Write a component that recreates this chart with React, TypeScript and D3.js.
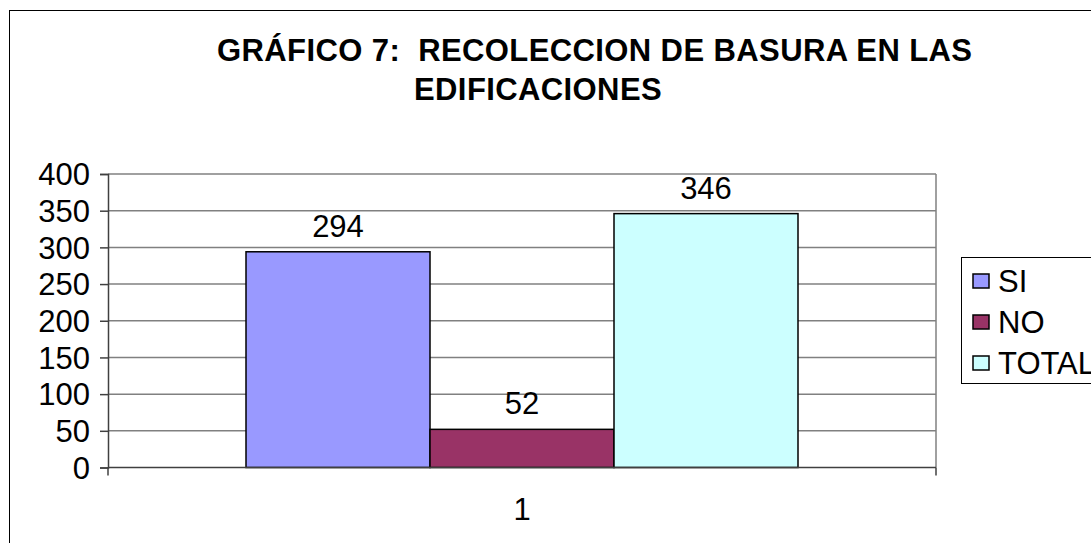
import React, { useEffect, useRef } from 'react';
import * as d3 from 'd3';

const categories = ['1'];
const seriesNames = ['SI', 'NO', 'TOTAL'];
const seriesValues = [294, 52, 346];
const seriesColors = ['#9999FF', '#993366', '#CCFFFF'];
const yTicks = [0, 50, 100, 150, 200, 250, 300, 350, 400];
const titleLines = ['GRÁFICO 7:  RECOLECCION DE BASURA EN LAS', 'EDIFICACIONES'];

function App() {
  const svgRef = useRef<SVGSVGElement>(null);

  useEffect(() => {
    const svg = d3.select(svgRef.current);
    svg.selectAll('*').remove();

    const plot = { left: 108, right: 936, top: 174, bottom: 467.5 };
    const font = '"Liberation Sans", Arial, sans-serif';
    const fs = 31;

    // outer frame, runs past the right and bottom edge
    svg.append('rect')
      .attr('x', 9.5).attr('y', 10.5)
      .attr('width', 1200).attr('height', 600)
      .attr('fill', '#fff').attr('stroke', '#000').attr('stroke-width', 1);

    // title
    svg.append('text')
      .attr('x', 217).attr('y', 61)
      .attr('font-family', font).attr('font-weight', 'bold').attr('font-size', fs)
      .attr('letter-spacing', 0.4)
      .style('white-space', 'pre')
      .text(titleLines[0]);
    svg.append('text')
      .attr('x', 414).attr('y', 100)
      .attr('font-family', font).attr('font-weight', 'bold').attr('font-size', fs)
      .attr('letter-spacing', 0.4)
      .text(titleLines[1]);

    const y = d3.scaleLinear().domain([0, 400]).range([plot.bottom, plot.top]);
    const x = d3.scaleBand().domain(categories).range([plot.left, plot.right])
      .paddingInner(0).paddingOuter(0.25);
    const xs = d3.scaleBand().domain(seriesNames).range([0, x.bandwidth()]);

    // gridlines
    svg.append('g').selectAll('line')
      .data(yTicks.filter(d => d > 0))
      .enter().append('line')
      .attr('x1', plot.left).attr('x2', plot.right)
      .attr('y1', d => y(d)).attr('y2', d => y(d))
      .attr('stroke', '#808080').attr('stroke-width', 1.5);

    // right border of plot area
    svg.append('line')
      .attr('x1', plot.right).attr('x2', plot.right)
      .attr('y1', plot.top).attr('y2', plot.bottom)
      .attr('stroke', '#808080').attr('stroke-width', 1.5);

    // bars
    const g = svg.append('g').attr('transform', `translate(${x(categories[0])},0)`);
    g.selectAll('rect')
      .data(seriesValues)
      .enter().append('rect')
      .attr('x', (d, i) => xs(seriesNames[i]) as number)
      .attr('y', d => y(d))
      .attr('width', xs.bandwidth())
      .attr('height', d => plot.bottom - y(d))
      .attr('fill', (d, i) => seriesColors[i])
      .attr('stroke', '#000').attr('stroke-width', 1.5);

    g.selectAll('text.val')
      .data(seriesValues)
      .enter().append('text')
      .attr('class', 'val')
      .attr('x', (d, i) => (xs(seriesNames[i]) as number) + xs.bandwidth() / 2)
      .attr('y', d => y(d) - 15)
      .attr('text-anchor', 'middle')
      .attr('font-family', font).attr('font-size', fs)
      .text(d => d);

    // y axis
    const yAxis = svg.append('g').attr('transform', `translate(${plot.left},0)`)
      .call(d3.axisLeft(y).tickValues(yTicks).tickSize(8).tickPadding(10));
    yAxis.select('.domain').attr('stroke', '#404040').attr('stroke-width', 1.5);
    yAxis.selectAll('.tick line').attr('stroke', '#404040').attr('stroke-width', 1.5);
    yAxis.selectAll('.tick text')
      .attr('font-family', font).attr('font-size', fs).attr('fill', '#000')
      .attr('dy', '0.35em');

    // x axis
    svg.append('line')
      .attr('x1', plot.left).attr('x2', plot.right)
      .attr('y1', plot.bottom).attr('y2', plot.bottom)
      .attr('stroke', '#404040').attr('stroke-width', 1.5);
    svg.append('g').selectAll('line')
      .data(x.range())
      .enter().append('line')
      .attr('x1', d => d).attr('x2', d => d)
      .attr('y1', plot.bottom).attr('y2', plot.bottom + 8)
      .attr('stroke', '#404040').attr('stroke-width', 1.5);
    svg.append('g').selectAll('text')
      .data(categories)
      .enter().append('text')
      .attr('x', d => (x(d) as number) + x.bandwidth() / 2)
      .attr('y', 520)
      .attr('text-anchor', 'middle')
      .attr('font-family', font).attr('font-size', fs)
      .text(d => d);

    // legend
    const lg = svg.append('g').attr('transform', 'translate(961,257)');
    lg.append('rect')
      .attr('x', 0.5).attr('y', 0.5).attr('width', 200).attr('height', 126)
      .attr('fill', '#fff').attr('stroke', '#000').attr('stroke-width', 1);
    const items = lg.selectAll('g.item')
      .data(seriesNames)
      .enter().append('g')
      .attr('class', 'item')
      .attr('transform', (d, i) => `translate(0,${24 + i * 41})`);
    items.append('rect')
      .attr('x', 12).attr('y', -7).attr('width', 16).attr('height', 14)
      .attr('fill', (d, i) => seriesColors[i])
      .attr('stroke', '#000').attr('stroke-width', 1.5);
    items.append('text')
      .attr('x', 37).attr('y', 0).attr('dy', '0.36em')
      .attr('font-family', font).attr('font-size', fs)
      .text(d => d);
  }, []);

  return (
    <svg ref={svgRef} width={1091} height={543}
      style={{ position: 'absolute', left: 0, top: 0, display: 'block' }} />
  );
}

export default App;
